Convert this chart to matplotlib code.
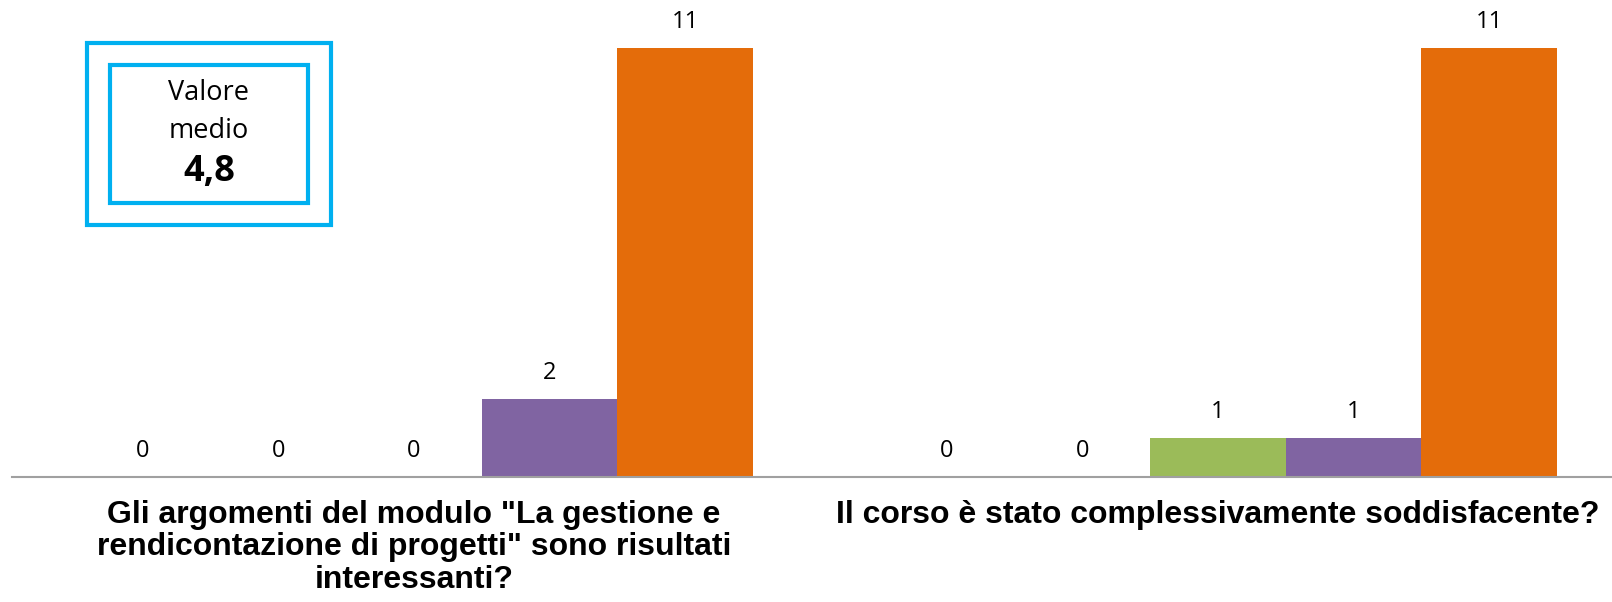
import numpy as np
import matplotlib.pyplot as plt
from matplotlib.patches import Rectangle

# Data
categories = ['Gli argomenti del modulo "La gestione e\nrendicontazione di progetti" sono risultati\ninteressanti?',
              'Il corso è stato complessivamente soddisfacente?']
series_names = ['1', '2', '3', '4', '5']
values = np.array([[0, 0, 0, 2, 11],
                   [0, 0, 1, 1, 11]])
colors = ['#4F81BD', '#C0504D', '#9BBB59', '#8064A2', '#E46C0A']
mean_value = '4,8'

W, H = 1612, 602
fig = plt.figure(figsize=(W / 100, H / 100), dpi=100)

# plot area: left edge at 12px, baseline at 477px, one category = 804px
ax = fig.add_axes([12 / W, 125 / H, (W - 12) / W, 468 / H])
ax.set_xlim(-0.5, -0.5 + (W - 12) / 804)
ax.set_ylim(0, 12)

w = 0.1685
x = np.arange(len(categories))
for j in range(len(series_names)):
    xs = x + (j - 2) * w
    ax.bar(xs, values[:, j], width=w, color=colors[j], linewidth=0)
    for xi, v in zip(xs, values[:, j]):
        ax.annotate(str(v), (xi, v), xytext=(0, 19), textcoords='offset points',
                    ha='center', va='center', fontsize=17, family='Open Sans')

for i, lab in enumerate(categories):
    ax.annotate(lab, (i, 0), xycoords=('data', 'axes fraction'), xytext=(0, -16.5),
                textcoords='offset points', ha='center', va='top',
                fontsize=23, fontweight='bold', family='Liberation Sans',
                linespacing=1.1)

for s in ['top', 'left', 'right']:
    ax.spines[s].set_visible(False)
ax.spines['bottom'].set_color('#A0A0A0')
ax.spines['bottom'].set_linewidth(1.5)
ax.set_xticks([])
ax.set_yticks([])

# "Valore medio" box
def px_rect(x0, y0, x1, y1):
    return Rectangle((x0 / W, 1 - y1 / H), (x1 - x0) / W, (y1 - y0) / H,
                     transform=fig.transFigure, fill=False, edgecolor='#00B0F0',
                     linewidth=3)

fig.patches.append(px_rect(87, 43, 331, 225))
fig.patches.append(px_rect(110, 65, 308, 203))
fig.text(209 / W, 1 - 93 / H, 'Valore', ha='center', va='center', fontsize=19.5, family='Open Sans')
fig.text(209 / W, 1 - 131 / H, 'medio', ha='center', va='center', fontsize=19.5, family='Open Sans')
fig.text(209 / W, 1 - 172 / H, mean_value, ha='center', va='center', fontsize=26,
         fontweight='bold', family='Open Sans')

fig.savefig('out.png', dpi=100)
